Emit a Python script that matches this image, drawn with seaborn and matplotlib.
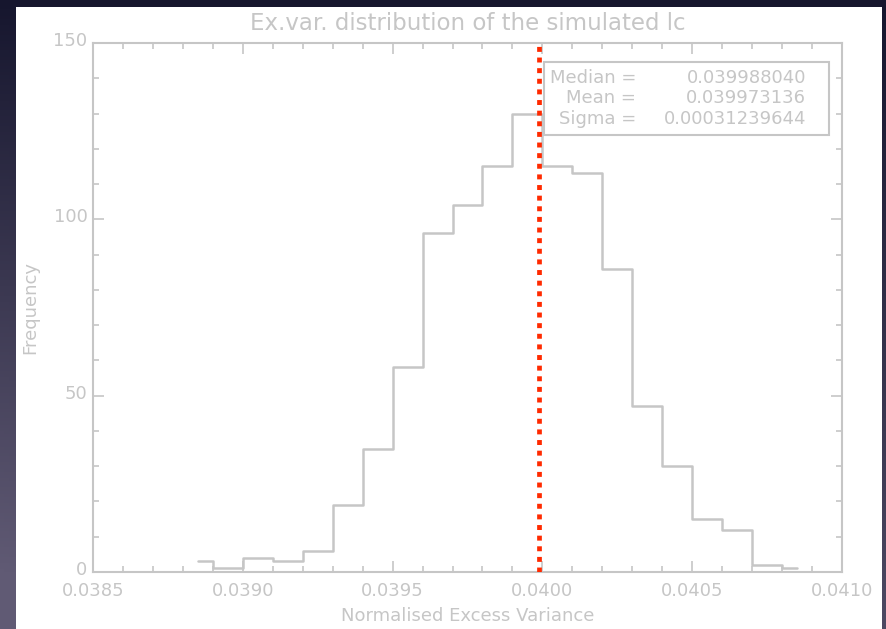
import numpy as np
import pandas as pd
import matplotlib
matplotlib.use("Agg")
import matplotlib.pyplot as plt
import matplotlib.transforms as mtransforms
import seaborn as sns
from matplotlib.patches import Rectangle
from matplotlib.ticker import MultipleLocator

# ---- data ----
bin_centers = [0.03885, 0.03895, 0.03905, 0.03915, 0.03925, 0.03935, 0.03945,
               0.03955, 0.03965, 0.03975, 0.03985, 0.03995, 0.04005, 0.04015,
               0.04025, 0.04035, 0.04045, 0.04055, 0.04065, 0.04075, 0.04085]
frequency = [3, 1, 4, 3, 6, 19, 35, 58, 96, 104, 115, 130, 115, 113,
             86, 47, 30, 15, 12, 2, 1]
stat_labels = ["Median =", "Mean =", "Sigma ="]
stat_values = ["0.039988040", "0.039973136", "0.00031239644"]
median_value = 0.039988040
x_ticks = [0.0385, 0.0390, 0.0395, 0.0400, 0.0405, 0.0410]
y_ticks = [0, 50, 100, 150]
title = "Ex.var. distribution of the simulated lc"
xlabel = "Normalised Excess Variance"
ylabel = "Frequency"

df = pd.DataFrame({"x": bin_centers, "freq": frequency})

sns.set_theme(style="white")
plt.rcParams["font.family"] = ["DejaVu Sans"]

W, H = 887, 629
fig = plt.figure(figsize=(W / 100, H / 100), dpi=100)

# dark slide background with gradient
bg = fig.add_axes([0, 0, 1, 1], zorder=-10)
yy, xx = np.mgrid[0:1:200j, 0:1:200j]
t = np.clip(0.75 * yy + 0.35 * (1 - xx) * yy, 0, 1)
c_top = np.array([0x16, 0x16, 0x2e]) / 255
c_bot = np.array([0x60, 0x5a, 0x74]) / 255
img = c_top[None, None, :] * (1 - t[..., None]) + c_bot[None, None, :] * t[..., None]
bg.imshow(img, extent=[0, 1, 0, 1], origin="upper", aspect="auto")
bg.set_axis_off()

# white panel
fig.patches.append(Rectangle((16 / W, 0), (882 - 16) / W, 1 - 7 / H,
                             transform=fig.transFigure, facecolor="white",
                             edgecolor="none", zorder=-5))

gray = "#c6c6c6"
fs = 13
left, right, top, bottom = 93, 842, 43, 572
ax = fig.add_axes([left / W, 1 - bottom / H, (right - left) / W, (bottom - top) / H])
ax.set_facecolor("white")

sns.lineplot(data=df, x="x", y="freq", drawstyle="steps-mid", color=gray,
             linewidth=1.8, ax=ax, errorbar=None)

ax.axvline(median_value, ymin=0, ymax=1, color="#ff2a00", linewidth=3.4,
           linestyle=(0, (1.05, 1.2)), dash_capstyle="butt", zorder=5)

ax.set_xlim(0.0385, 0.0410)
ax.set_ylim(0, 150)
ax.set_xticks(x_ticks)
ax.set_xticklabels([f"{v:.4f}" for v in x_ticks])
ax.set_yticks(y_ticks)
ax.set_yticklabels([str(v) for v in y_ticks])
ax.xaxis.set_minor_locator(MultipleLocator(0.0001))
ax.yaxis.set_minor_locator(MultipleLocator(10))
ax.tick_params(which="both", direction="in", top=True, right=True,
               bottom=True, left=True, color=gray, width=1.2)
ax.tick_params(which="major", length=8, labelsize=fs, labelcolor=gray)
ax.tick_params(axis="x", which="major", pad=7)
ax.tick_params(axis="y", which="major", pad=4)
ax.tick_params(which="minor", length=4.5)
for s in ax.spines.values():
    s.set_color(gray)
    s.set_linewidth(1.5)

# y tick labels sit slightly above their ticks, as in the reference
shift = mtransforms.ScaledTranslation(0, 4 / 100, fig.dpi_scale_trans)
for lbl in ax.get_yticklabels():
    lbl.set_transform(lbl.get_transform() + shift)

ax.set_xlabel(xlabel, color=gray, fontsize=fs, labelpad=5)
ax.set_ylabel(ylabel, color=gray, fontsize=fs, labelpad=10)
ax.set_title(title, color=gray, fontsize=16.5, pad=9)

# statistics box
bx0, bx1 = (544 - left) / (right - left), (829 - left) / (right - left)
by0, by1 = (bottom - 135) / (bottom - top), (bottom - 62) / (bottom - top)
ax.add_patch(Rectangle((bx0, by0), bx1 - bx0, by1 - by0, transform=ax.transAxes,
                       facecolor="white", edgecolor=gray, linewidth=1.5, zorder=4))
ys = [78, 98, 119]
for lab, val, ypx in zip(stat_labels, stat_values, ys):
    yf = (bottom - ypx) / (bottom - top)
    ax.text((636 - left) / (right - left), yf, lab, transform=ax.transAxes,
            ha="right", va="center", color=gray, fontsize=fs, zorder=6)
    ax.text((806 - left) / (right - left), yf, val, transform=ax.transAxes,
            ha="right", va="center", color=gray, fontsize=fs, zorder=6)

fig.savefig("out.png", dpi=100)
